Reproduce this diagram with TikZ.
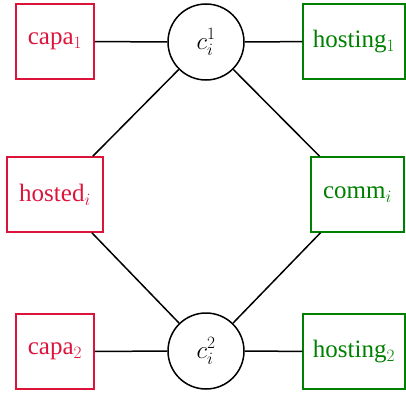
\documentclass[tikz,border=0pt]{standalone}
\usepackage{fontspec}
\setmainfont{Liberation Serif}
\definecolor{redc}{RGB}{220,20,60}
\definecolor{greenc}{RGB}{0,128,0}
\begin{document}
\begin{tikzpicture}[x=1pt,y=-1pt,
  redbox/.style={draw=redc,text=redc,line width=1.5pt,minimum height=75pt,inner sep=0pt},
  greenbox/.style={draw=greenc,text=greenc,line width=1.5pt,minimum height=75pt,inner sep=0pt},
  cnode/.style={draw=black,circle,line width=1.5pt,minimum size=76pt,inner sep=0pt},
  link/.style={draw=black,line width=1.5pt},
  every node/.style={font=\fontsize{25}{30}\selectfont}]
\useasboundingbox (0,0) rectangle (406,396);
\node[redbox,minimum width=78pt] (capa1) at (55,41.5) {capa$_1$};
\node[greenbox,minimum width=102pt] (host1) at (354,41.5) {hosting$_1$};
\node[cnode] (c1) at (206,42) {$c_i^1$};
\node[redbox,minimum width=96pt] (hosted) at (55,194.5) {hosted$_i$};
\node[greenbox,minimum width=93pt] (comm) at (357.5,194.5) {comm$_i$};
\node[redbox,minimum width=78pt] (capa2) at (55,351.5) {capa$_2$};
\node[greenbox,minimum width=102pt] (host2) at (354,351.5) {hosting$_2$};
\node[cnode] (c2) at (206,351) {$c_i^2$};
\draw[link] (capa1) -- (c1);
\draw[link] (c1) -- (host1);
\draw[link] (capa2) -- (c2);
\draw[link] (c2) -- (host2);
\draw[link] (c1) -- (hosted);
\draw[link] (c1) -- (comm);
\draw[link] (hosted) -- (c2);
\draw[link] (comm) -- (c2);
\end{tikzpicture}
\end{document}
